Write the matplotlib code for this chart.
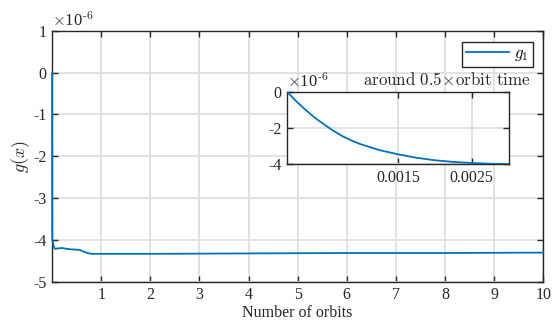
import matplotlib
matplotlib.use('Agg')
import matplotlib.pyplot as plt
from matplotlib.ticker import FuncFormatter

# main curve (values in units of 1e-6)
orbits = [0.0, 0.0008, 0.003, 0.05, 0.2, 0.35, 0.5, 0.57, 0.65, 0.72, 0.8, 1.0, 2.0, 4.0, 6.0, 8.0, 10.0]
g1 = [0.0, -2.6, -4.0, -4.21, -4.19, -4.22, -4.23, -4.24, -4.28, -4.31, -4.33, -4.33, -4.33, -4.32, -4.31, -4.31, -4.30]

# zoomed-in start (x in orbits, y in 1e-6)
t_zoom = [0.0, 0.000125, 0.00025, 0.000375, 0.0005, 0.000625, 0.00075, 0.000875, 0.001,
          0.00125, 0.0015, 0.00175, 0.002, 0.00225, 0.0025, 0.00275, 0.003]
g_zoom = [0.0, -0.53, -1.0, -1.43, -1.8, -2.15, -2.45, -2.7, -2.9,
          -3.22, -3.45, -3.64, -3.78, -3.87, -3.93, -3.97, -4.0]

plt.rcParams['font.family'] = ['Liberation Serif', 'DejaVu Serif']
plt.rcParams['mathtext.fontset'] = 'cm'

blue = '#0072BD'
dark = '#262626'
gridc = '#dfdfdf'


def hyphen_fmt(v, pos):
    return ('%g' % v).replace('\u2212', '-')


def style(ax):
    ax.grid(True, color=gridc, linewidth=1.3)
    ax.set_axisbelow(True)
    for sp in ax.spines.values():
        sp.set_color(dark)
        sp.set_linewidth(1.0)
    ax.tick_params(direction='in', top=True, right=True, length=4, width=1.0,
                   colors=dark, labelcolor=dark, labelsize=11.5, pad=4)


fig = plt.figure(figsize=(5.6, 3.24), dpi=100)
ax = fig.add_axes([0.093, 0.13, 0.877, 0.775])
ax.plot(orbits, g1, color=blue, linewidth=1.3, label='$g_1$', zorder=3, clip_on=False)
ax.set_xlim(0, 10)
ax.set_ylim(-5, 1)
ax.set_xticks(range(1, 11))
ax.set_yticks(range(-5, 2))
ax.yaxis.set_major_formatter(FuncFormatter(hyphen_fmt))
style(ax)
ax.set_xlabel('Number of orbits', fontsize=11.5, color=dark, labelpad=1)
ax.set_ylabel('$g(x)$', fontsize=13, color=dark, labelpad=1)
ax.text(0.0, 1.005, r'$\times$10$^{\text{-6}}$', transform=ax.transAxes,
        fontsize=12, color=dark, ha='left', va='bottom')
leg = ax.legend(loc='upper right', bbox_to_anchor=(0.98, 0.956), fontsize=12,
                handlelength=2.6, handletextpad=0.3, borderpad=0.25, borderaxespad=0,
                fancybox=False, framealpha=1)
leg.get_frame().set_edgecolor(dark)
leg.get_frame().set_linewidth(1.0)

ins = fig.add_axes([0.5125, 0.493, 0.396, 0.224])
ins.plot(t_zoom, g_zoom, color=blue, linewidth=1.3, zorder=3)
ins.set_xlim(0, 0.003)
ins.set_ylim(-4, 0)
ins.set_xticks([0.0015, 0.0025])
ins.set_xticklabels(['0.0015', '0.0025'])
ins.set_yticks([-4, -2, 0])
ins.yaxis.set_major_formatter(FuncFormatter(hyphen_fmt))
style(ins)
ins.set_facecolor('white')
ins.text(0.0, 1.01, r'$\times$10$^{\text{-6}}$', transform=ins.transAxes,
         fontsize=12, color=dark, ha='left', va='bottom')
ins.text(1.1, 1.04, r'$\mathrm{around\ 0.5\!\times\!orbit\ time}$', transform=ins.transAxes,
         fontsize=12.2, color=dark, ha='right', va='bottom')

fig.savefig('out.png', dpi=100)
